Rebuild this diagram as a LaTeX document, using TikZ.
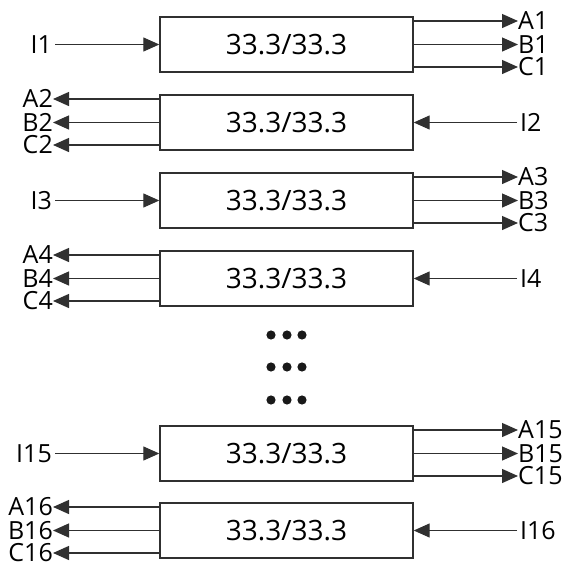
\documentclass[tikz,border=0pt]{standalone}
\usepackage{fontspec}
\setmainfont{Open Sans}
\usetikzlibrary{arrows.meta}
\definecolor{linec}{HTML}{303030}
\tikzset{
  boxst/.style={draw=linec, line width=1.4pt, minimum width=253pt, minimum height=55pt,
    inner sep=0pt, font=\fontsize{28}{30}\selectfont},
  lab/.style={inner sep=0pt, text height=17.9pt, text depth=0pt, font=\fontsize{25}{26}\selectfont},
  arr/.style={draw=linec, line width=1.3pt, -{Triangle[length=16pt,width=14pt]}},
  dotst/.style={fill=black!90, draw=none}
}
\begin{document}
\begin{tikzpicture}[x=1pt,y=-1pt]
\useasboundingbox (0,0) rectangle (566,565);
% right-flowing rows: index, top
\foreach \i/\t in {1/17, 3/173, 15/426}{
  \node[boxst] (b\i) at (286.5,\t+27.5) {33.3/33.3};
  \node[lab, anchor=east] (I\i) at (52,\t+27.5) {I\i};
  \draw[arr] ([xshift=3pt]I\i.east) -- (b\i.west);
  \node[lab, anchor=west] (A\i) at (518,\t+4) {A\i};
  \node[lab, anchor=west] (B\i) at (518,\t+27.5) {B\i};
  \node[lab, anchor=west] (C\i) at (518,\t+50) {C\i};
  \draw[arr] (b\i.east |- A\i.west) -- (A\i.west);
  \draw[arr] (b\i.east |- B\i.west) -- (B\i.west);
  \draw[arr] (b\i.east |- C\i.west) -- (C\i.west);
}
% left-flowing rows
\foreach \i/\t in {2/95, 4/251, 16/503}{
  \node[boxst] (b\i) at (286.5,\t+27.5) {33.3/33.3};
  \node[lab, anchor=west] (I\i) at (520,\t+27.5) {I\i};
  \draw[arr] ([xshift=-3pt]I\i.west) -- (b\i.east);
  \node[lab, anchor=east] (A\i) at (53,\t+4) {A\i};
  \node[lab, anchor=east] (B\i) at (53,\t+27.5) {B\i};
  \node[lab, anchor=east] (C\i) at (53,\t+50) {C\i};
  \draw[arr] (b\i.west |- A\i.east) -- (A\i.east);
  \draw[arr] (b\i.west |- B\i.east) -- (B\i.east);
  \draw[arr] (b\i.west |- C\i.east) -- (C\i.east);
}
% vertical ellipsis dots
\foreach \y in {335,367,400}{
  \foreach \x in {271,287,302}{
    \fill[dotst] (\x,\y) circle (4.6pt);
  }
}
\end{tikzpicture}
\end{document}
